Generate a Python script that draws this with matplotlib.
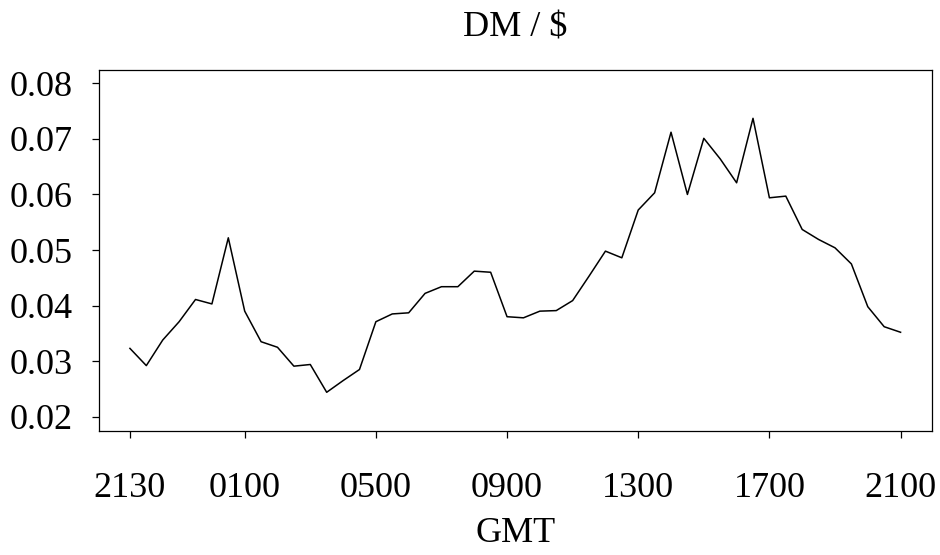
import matplotlib
matplotlib.use("Agg")
import matplotlib.pyplot as plt

plt.rcParams['font.family'] = ['Liberation Serif', 'DejaVu Serif']

# half-hourly DM/$ series, 2130 GMT through 2100 GMT next day
half_hours = list(range(48))
dm_usd = [0.0323, 0.0292, 0.0338, 0.0371, 0.0411, 0.0403, 0.0522, 0.0390,
          0.0335, 0.0325, 0.0291, 0.0294, 0.0244, 0.0265, 0.0285, 0.0371,
          0.0385, 0.0387, 0.0422, 0.0434, 0.0434, 0.0462, 0.0460, 0.0380,
          0.0378, 0.0390, 0.0391, 0.0409, 0.0453, 0.0498, 0.0486, 0.0572,
          0.0603, 0.0712, 0.0600, 0.0701, 0.0664, 0.0621, 0.0737, 0.0594,
          0.0597, 0.0537, 0.0519, 0.0504, 0.0475, 0.0398, 0.0362, 0.0352]

tick_pos = [0, 7, 15, 23, 31, 39, 47]
tick_labels = ['2130', '0100', '0500', '0900', '1300', '1700', '2100']
y_ticks = [0.02, 0.03, 0.04, 0.05, 0.06, 0.07, 0.08]

fig = plt.figure(figsize=(9.4, 5.55), dpi=100)
ax = fig.add_axes([0.1056, 0.2243, 0.8856, 0.6496])

ax.plot(half_hours, dm_usd, color='black', lw=1.1)

ax.set_xlim(-1.87, 48.9)
ax.set_ylim(0.01752, 0.0824)
ax.set_xticks(tick_pos)
ax.set_xticklabels(tick_labels)
ax.set_yticks(y_ticks)
ax.set_yticklabels([f'{v:.2f}' for v in y_ticks])

ax.tick_params(axis='both', direction='out', length=5, width=0.9,
               labelsize=26, color='black')
ax.tick_params(axis='x', pad=25)
ax.tick_params(axis='y', pad=14)
for s in ax.spines.values():
    s.set_linewidth(0.9)

ax.set_title('DM / $', fontsize=26, pad=24)
ax.set_xlabel('GMT', fontsize=26, labelpad=8.5)

fig.savefig('out.png', dpi=100)
